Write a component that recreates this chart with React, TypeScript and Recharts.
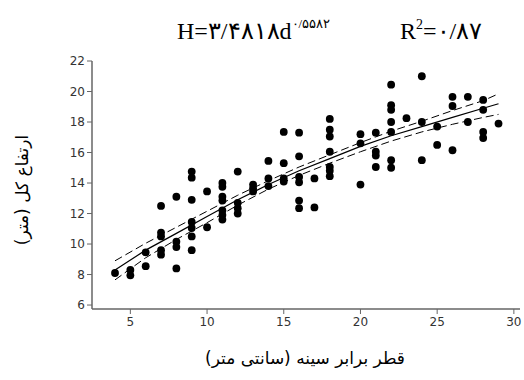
import React from 'react';
import { ScatterChart, Scatter, XAxis, YAxis } from 'recharts';

// diameter (cm) and height (m) of each measured tree
const diameters = [
  4,
  5, 5,
  6, 6,
  7, 7, 7, 7, 7,
  8, 8, 8, 8,
  9, 9, 9, 9, 9, 9, 9,
  10, 10,
  11, 11, 11, 11, 11, 11, 11,
  12, 12, 12, 12,
  13, 13, 13,
  14, 14, 14,
  15, 15, 15, 15,
  16, 16, 16, 16, 16, 16,
  17, 17,
  18, 18, 18, 18, 18, 18, 18,
  20, 20, 20,
  21, 21, 21, 21,
  22, 22, 22, 22, 22, 22, 22,
  23,
  24, 24, 24,
  25, 25,
  26, 26, 26,
  27, 27,
  28, 28, 28, 28,
  29,
];
const heights = [
  8.1,
  8.3, 7.95,
  9.45, 8.55,
  12.5, 10.75, 10.5, 9.6, 9.3,
  13.1, 10.15, 9.8, 8.4,
  14.75, 14.35, 12.9, 11.45, 11.05, 10.5, 9.6,
  13.45, 11.1,
  14.0, 13.75, 13.1, 12.85, 12.2, 11.9, 11.6,
  14.75, 12.7, 12.35, 12.0,
  13.9, 13.65, 13.45,
  15.45, 14.3, 13.8,
  17.35, 15.3, 14.3, 14.1,
  17.3, 15.75, 14.4, 14.05, 12.85, 12.35,
  14.3, 12.4,
  18.2, 17.5, 17.05, 16.05, 15.05, 14.8, 14.45,
  17.2, 16.6, 13.9,
  17.3, 16.05, 15.8, 15.05,
  20.45, 19.1, 18.8, 18.0, 17.35, 15.5, 15.0,
  18.25,
  21.0, 18.0, 15.5,
  17.7, 16.5,
  19.65, 19.05, 16.15,
  19.65, 18.0,
  19.45, 18.8, 17.35, 16.95,
  17.9,
];

// fitted curve and its confidence band
const fitD = [4, 6, 8, 10, 12, 14, 16, 18, 20, 22, 24, 26, 28, 29];
const fitMid = [8.3, 9.6, 10.7, 11.8, 12.9, 13.9, 14.8, 15.6, 16.4, 17.1, 17.7, 18.3, 18.9, 19.2];
const fitUpper = [8.9, 10.05, 11.1, 12.15, 13.2, 14.15, 15.05, 15.85, 16.65, 17.4, 18.05, 18.75, 19.4, 19.85];
const fitLower = [7.65, 9.1, 10.3, 11.4, 12.55, 13.6, 14.5, 15.3, 16.05, 16.75, 17.35, 17.85, 18.3, 18.5];

const xTicks = [5, 10, 15, 20, 25, 30];
const yTicks = [6, 8, 10, 12, 14, 16, 18, 20, 22];

const points = diameters.map((d, i) => ({ x: d, y: heights[i] }));
const toLine = (ys: number[]) => fitD.map((d, i) => ({ x: d, y: ys[i] }));

const axisColor = '#666';
const tickStyle = { fill: '#333', fontSize: 12, fontFamily: 'DejaVu Sans' };

const Dot = (props: any) => <circle cx={props.cx} cy={props.cy} r={3.9} fill="#000" />;
const NoDot = () => null;

export default function App() {
  return (
    <div style={{ position: 'absolute', left: 0, top: 0, width: 524, height: 380, background: '#fff' }}>
      <ScatterChart width={524} height={380} margin={{ top: 61, right: 4, bottom: 0, left: 0 }}>
        <XAxis
          type="number"
          dataKey="x"
          domain={[2.5, 30.4]}
          ticks={xTicks}
          height={71}
          tickSize={5}
          tickMargin={3}
          tick={tickStyle}
          axisLine={{ stroke: axisColor, strokeWidth: 1.5 }}
          tickLine={{ stroke: axisColor }}
        />
        <YAxis
          type="number"
          dataKey="y"
          domain={[5.74, 22]}
          ticks={yTicks}
          width={92}
          tickSize={5}
          tickMargin={2}
          tick={tickStyle}
          axisLine={{ stroke: axisColor, strokeWidth: 1.5 }}
          tickLine={{ stroke: axisColor }}
        />
        <Scatter data={points} shape={Dot} isAnimationActive={false} />
        <Scatter data={toLine(fitMid)} shape={NoDot} line={{ stroke: '#000', strokeWidth: 1.2 }} isAnimationActive={false} />
        <Scatter data={toLine(fitUpper)} shape={NoDot} line={{ stroke: '#000', strokeWidth: 1, strokeDasharray: '8 4' }} isAnimationActive={false} />
        <Scatter data={toLine(fitLower)} shape={NoDot} line={{ stroke: '#000', strokeWidth: 1, strokeDasharray: '8 4' }} isAnimationActive={false} />
      </ScatterChart>
      <svg width={524} height={380} style={{ position: 'absolute', left: 0, top: 0, pointerEvents: 'none' }}>
        <text x={177} y={39} fontFamily="Liberation Serif" fontSize={24} fill="#000">
          H=۳/۴۸۱۸d<tspan dy={-11} fontSize={13}>۰/۵۵۸۲</tspan>
        </text>
        <text x={400} y={39} fontFamily="Liberation Serif" fontSize={24} fill="#000">
          R<tspan dy={-10} fontSize={14}>2</tspan><tspan dy={10}>=۰/۸۷</tspan>
        </text>
        <text
          x={23}
          y={190}
          transform="rotate(-90 23 190)"
          textAnchor="middle"
          dominantBaseline="middle"
          fontFamily="DejaVu Sans"
          fontSize={17}
          fill="#000"
        >
          ارتفاع کل (متر)
        </text>
        <text x={305} y={364} textAnchor="middle" fontFamily="DejaVu Sans" fontSize={17} fill="#000">
          قطر برابر سینه (سانتی متر)
        </text>
      </svg>
    </div>
  );
}
